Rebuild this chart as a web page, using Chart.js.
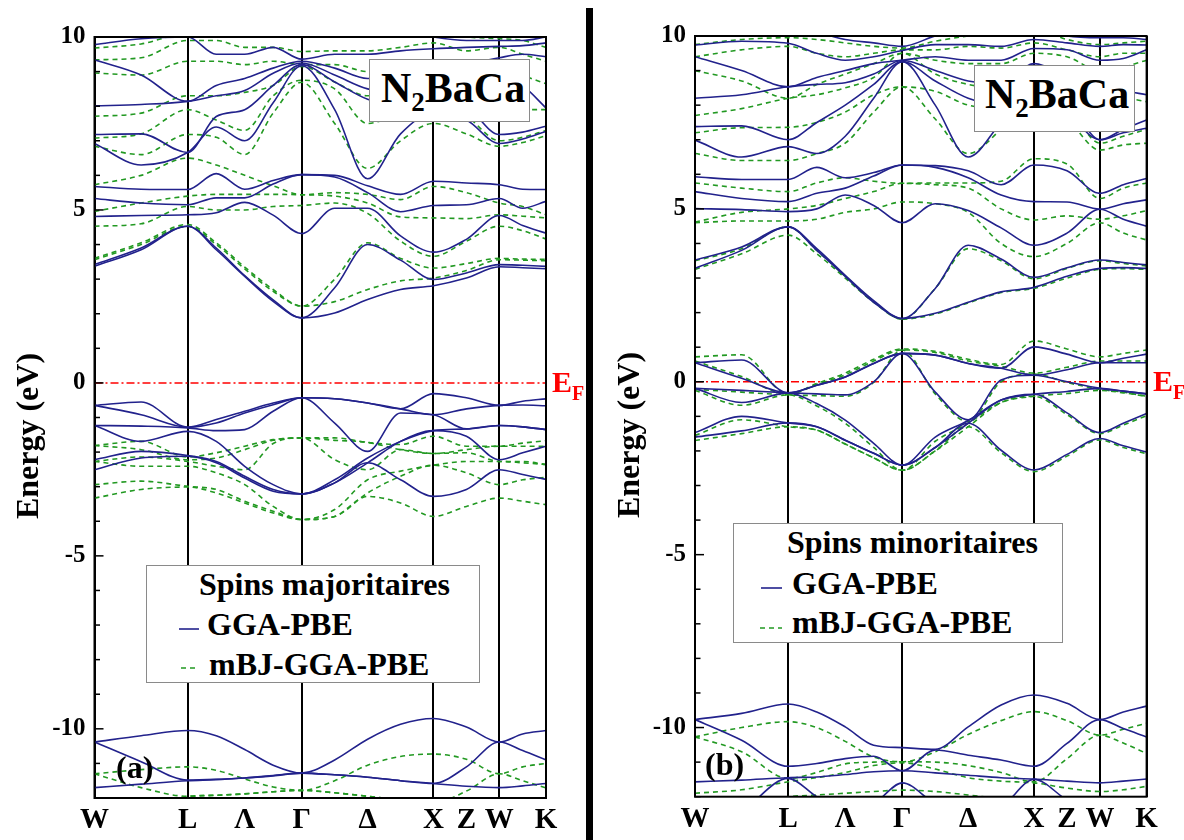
<!DOCTYPE html>
<html>
<head>
<meta charset="utf-8">
<script src="https://cdn.jsdelivr.net/npm/chart.js@4.4.1/dist/chart.umd.min.js"></script>
<style>
  body { margin:0; background:#fff; width:1184px; height:840px; position:relative; overflow:hidden; }
  canvas { position:absolute; top:0; }
  #left { left:0; }
  #right { left:595px; }
  .t { position:absolute; font-family:'Liberation Serif','Times New Roman',serif; font-weight:bold; line-height:1; white-space:nowrap; color:#000; }
  .box { position:absolute; background:#fff; border:1.5px solid #8a8a8a; box-sizing:border-box; }
  #bar { position:absolute; left:586px; top:8px; width:7px; height:832px; background:#000; }
  .sub { position:relative; }
  .ytitle { position:absolute; width:200px; height:32px; line-height:32px; text-align:center; font-size:32px; transform:rotate(-90deg); }
</style>
</head>
<body>
<canvas id="left" width="590" height="840"></canvas>
<canvas id="right" width="589" height="840"></canvas>
<div id="bar"></div>

<!-- panel (a) annotations -->
<div class="t ytitle" style="left:-73px;top:420px">Energy (eV)</div>
<div class="box" style="left:369px;top:59px;width:161px;height:63px"></div>
<div class="t" style="left:381px;top:67px;font-size:42px">N<span class="sub" style="font-size:27px;top:9px">2</span>BaCa</div>
<div class="box" style="left:146px;top:565px;width:334px;height:118px"></div>
<div class="t" style="left:199px;top:568px;font-size:32px">Spins majoritaires</div>
<div class="t" style="left:207px;top:608px;font-size:32px">GGA-PBE</div>
<div class="t" style="left:209px;top:648px;font-size:32px">mBJ-GGA-PBE</div>
<svg style="position:absolute;left:176px;top:620px" width="26" height="60">
  <line x1="3" y1="9" x2="23" y2="9" stroke="#22228c" stroke-width="1.6"/>
  <line x1="5" y1="48" x2="23" y2="48" stroke="#229922" stroke-width="1.6" stroke-dasharray="5,4"/>
</svg>
<div class="t" style="left:552px;top:367px;font-size:30px;color:#f00">E<span class="sub" style="font-size:20px;top:8px">F</span></div>
<div class="t" style="left:116px;top:751px;font-size:32px">(a)</div>

<!-- panel (b) annotations -->
<div class="t ytitle" style="left:528px;top:419px">Energy (eV)</div>
<div class="box" style="left:974px;top:65px;width:161px;height:67px"></div>
<div class="t" style="left:985px;top:73px;font-size:42px">N<span class="sub" style="font-size:27px;top:9px">2</span>BaCa</div>
<div class="box" style="left:733px;top:523px;width:330px;height:120px"></div>
<div class="t" style="left:787px;top:526px;font-size:32px">Spins minoritaires</div>
<div class="t" style="left:792px;top:567px;font-size:32px">GGA-PBE</div>
<div class="t" style="left:792px;top:606px;font-size:32px">mBJ-GGA-PBE</div>
<svg style="position:absolute;left:758px;top:579px" width="26" height="60">
  <line x1="3" y1="9" x2="24" y2="9" stroke="#22228c" stroke-width="1.6"/>
  <line x1="2" y1="49" x2="24" y2="49" stroke="#229922" stroke-width="1.6" stroke-dasharray="5,4"/>
</svg>
<div class="t" style="left:1153px;top:366px;font-size:30px;color:#f00">E<span class="sub" style="font-size:20px;top:8px">F</span></div>
<div class="t" style="left:705px;top:748px;font-size:32px">(b)</div>

<script>
// k-path W - L - Γ - X - W - K (sample points along the path)
const kPath = [0, 0.354, 0.707, 0.924, 1.14, 1.356, 1.573, 1.823, 2.073, 2.323, 2.573, 2.823, 3.073, 3.25, 3.427]
const tickPos = [0, 0.707, 1.14, 1.573, 2.073, 2.573, 2.823, 3.073, 3.427]
const tickNames = ['W', 'L', 'Λ', 'Γ', 'Δ', 'X', 'Z', 'W', 'K']
const tickLines = [true, true, false, true, false, true, false, true, true]
const yTicks = [-10, -5, 0, 5, 10]

// spin up, GGA-PBE
const upGGA = [
  [-10.38, -10.20, -10.05, -10.20, -10.60, -11.05, -11.28, -10.90, -10.30, -9.87, -9.70, -9.95, -10.38, -10.15, -10.05],
  [-10.38, -10.95, -11.48, -11.46, -11.42, -11.35, -11.28, -11.33, -11.40, -11.50, -11.58, -11.10, -10.38, -10.63, -10.90],
  [-11.70, -11.60, -11.50, -11.47, -11.42, -11.36, -11.28, -11.33, -11.40, -11.50, -11.58, -11.66, -11.70, -11.65, -11.58],
  [-0.65, -0.55, -1.28, -1.06, -0.82, -0.58, -0.43, -0.46, -0.58, -0.75, -0.31, -0.43, -0.65, -0.53, -0.46],
  [-0.65, -0.92, -1.28, -1.16, -0.87, -0.63, -0.43, -0.46, -0.58, -0.75, -0.92, -0.75, -0.65, -0.64, -0.66],
  [-1.23, -1.25, -1.30, -1.38, -1.35, -0.82, -0.43, -1.16, -1.98, -0.87, -0.92, -1.33, -1.23, -1.27, -1.35],
  [-1.23, -1.69, -1.40, -1.69, -2.41, -2.94, -3.21, -2.80, -2.17, -1.69, -1.38, -1.33, -1.23, -1.27, -1.35],
  [-2.22, -1.98, -2.10, -2.27, -2.70, -3.08, -3.21, -2.89, -2.31, -1.69, -1.38, -1.54, -2.22, -2.02, -1.83],
  [-2.51, -2.17, -2.12, -2.31, -2.75, -3.13, -3.21, -2.89, -2.31, -2.80, -3.28, -3.08, -2.51, -2.65, -2.79],
  [3.37, 3.85, 4.53, 3.85, 3.08, 2.36, 1.88, 2.02, 2.41, 2.70, 2.81, 3.03, 3.36, 3.33, 3.30],
  [3.42, 3.90, 4.53, 3.90, 3.10, 2.40, 1.88, 2.75, 4.00, 3.55, 2.99, 3.18, 3.42, 3.40, 3.37],
  [4.81, 4.84, 4.86, 4.92, 5.22, 4.85, 4.32, 5.05, 5.05, 4.25, 3.78, 4.15, 4.84, 4.55, 4.33],
  [5.33, 5.20, 5.15, 5.35, 5.35, 5.75, 6.02, 5.95, 5.50, 4.95, 5.13, 5.15, 5.33, 5.05, 5.25],
  [5.68, 5.60, 5.59, 6.05, 5.60, 5.85, 6.02, 6.00, 5.70, 5.45, 5.83, 5.78, 5.73, 5.60, 5.59],
  [6.92, 6.30, 6.66, 7.40, 7.00, 8.10, 9.17, 7.90, 5.90, 7.20, 7.80, 7.60, 6.92, 7.05, 7.27],
  [7.18, 7.20, 6.66, 7.70, 7.90, 8.60, 9.20, 8.70, 8.20, 8.00, 8.30, 8.00, 7.18, 7.25, 7.42],
  [8.01, 8.05, 8.14, 8.30, 8.45, 8.95, 9.25, 8.90, 8.50, 8.40, 8.60, 8.60, 9.00, 8.60, 7.95],
  [9.34, 8.90, 8.14, 8.60, 8.80, 9.10, 9.30, 9.10, 8.80, 8.80, 9.00, 9.20, 9.40, 9.50, 9.43],
  [9.78, 9.95, 10.0, 9.50, 9.50, 9.70, 9.36, 9.50, 9.50, 9.60, 9.66, 9.70, 9.73, 9.75, 9.83],
  [10.0, 10.1, 10.1, 10.2, 10.2, 10.3, 10.3, 10.2, 10.3, 10.2, 10.0, 9.90, 9.90, 9.90, 10.0]
]

// spin up, mBJ-GGA-PBE
const upMBJ = [
  [-11.30, -11.18, -11.10, -11.20, -11.45, -11.68, -11.78, -11.50, -11.05, -10.80, -10.73, -10.88, -11.30, -11.10, -11.00],
  [-11.30, -11.70, -11.95, -11.92, -11.88, -11.82, -11.78, -11.85, -11.95, -12.05, -12.15, -11.80, -11.30, -11.50, -11.71],
  [-12.60, -12.40, -11.95, -11.92, -11.88, -11.82, -11.78, -11.85, -11.95, -12.05, -12.15, -12.40, -12.60, -12.50, -12.30],
  [-1.81, -1.69, -2.14, -2.02, -1.83, -1.64, -1.59, -1.59, -1.72, -1.78, -1.54, -1.83, -1.83, -1.74, -1.67],
  [-1.81, -1.93, -2.22, -2.17, -1.93, -1.66, -1.59, -1.66, -1.72, -1.93, -2.04, -1.93, -1.83, -1.83, -1.83],
  [-2.27, -2.14, -2.27, -2.41, -2.51, -1.75, -1.59, -2.22, -2.51, -1.93, -2.04, -2.02, -2.27, -2.27, -2.36],
  [-2.27, -2.41, -2.41, -2.60, -2.94, -3.57, -3.95, -3.66, -2.80, -2.55, -2.38, -2.27, -2.27, -2.31, -2.36],
  [-2.94, -2.84, -2.99, -3.08, -3.42, -3.71, -3.95, -3.86, -3.18, -2.70, -2.38, -2.60, -2.94, -2.80, -2.73],
  [-3.33, -3.08, -3.01, -3.18, -3.47, -3.76, -3.95, -3.86, -3.28, -3.47, -3.86, -3.57, -3.33, -3.42, -3.52],
  [3.56, 4.00, 4.53, 4.00, 3.30, 2.65, 2.22, 2.35, 2.70, 2.95, 3.03, 3.25, 3.56, 3.55, 3.53],
  [3.60, 4.05, 4.58, 4.05, 3.35, 2.70, 2.22, 3.00, 4.05, 3.60, 3.32, 3.45, 3.60, 3.58, 3.57],
  [4.53, 4.60, 5.10, 5.00, 5.00, 5.10, 5.13, 5.20, 4.90, 4.10, 3.66, 4.10, 4.53, 4.40, 4.16],
  [4.96, 5.20, 5.40, 5.45, 5.45, 5.45, 5.44, 5.40, 5.20, 4.80, 4.77, 4.75, 4.86, 4.82, 4.77],
  [5.73, 6.00, 6.50, 6.30, 6.00, 5.70, 5.44, 5.50, 5.45, 5.30, 5.68, 5.50, 5.20, 5.10, 4.86],
  [6.84, 6.60, 7.18, 7.10, 6.60, 7.80, 8.69, 7.50, 6.20, 7.00, 7.50, 7.20, 6.84, 6.95, 7.15],
  [7.08, 7.20, 7.90, 7.60, 7.30, 8.30, 8.75, 8.50, 7.50, 7.80, 8.00, 7.70, 7.00, 7.10, 7.30],
  [7.71, 7.80, 8.30, 8.30, 8.40, 8.60, 9.15, 8.70, 8.30, 8.30, 8.50, 8.30, 8.00, 7.90, 7.90],
  [8.96, 8.90, 9.30, 9.30, 9.20, 9.30, 9.20, 9.20, 9.00, 9.00, 9.20, 9.20, 9.25, 8.90, 8.65],
  [9.34, 9.40, 9.90, 9.90, 9.70, 9.70, 9.58, 9.60, 9.60, 9.70, 9.83, 9.60, 9.70, 9.50, 9.30],
  [9.68, 9.80, 10.1, 10.1, 10.1, 10.1, 10.0, 10.0, 10.0, 10.0, 10.1, 10.0, 9.95, 9.90, 9.70]
]

// spin down, GGA-PBE
const dnGGA = [
  [-9.77, -9.59, -9.32, -9.55, -9.98, -10.51, -10.58, -10.63, -9.98, -9.35, -9.06, -9.30, -9.77, -9.55, -9.38],
  [-9.77, -10.37, -11.12, -11.04, -10.90, -10.83, -11.25, -10.65, -10.80, -10.94, -11.12, -10.46, -9.77, -10.03, -10.27],
  [-11.57, -11.52, -11.45, -11.43, -11.36, -11.28, -11.25, -11.31, -11.38, -11.45, -11.49, -11.55, -11.60, -11.55, -11.49],
  [-12.80, -12.40, -11.47, -12.00, -12.40, -12.20, -11.60, -12.20, -12.50, -12.30, -11.50, -12.10, -12.60, -12.80, -12.90],
  [0.55, 0.63, -0.32, -0.10, 0.14, 0.53, 0.82, 0.77, 0.53, 0.39, 1.01, 0.80, 0.55, 0.68, 0.80],
  [0.55, 0.10, -0.32, -0.10, 0.14, 0.53, 0.82, 0.77, 0.53, 0.39, 0.19, 0.35, 0.55, 0.55, 0.55],
  [-0.19, -0.25, -0.32, -0.35, -0.38, 0.00, 0.82, -0.30, -1.10, 0.05, 0.19, 0.00, -0.19, -0.27, -0.35],
  [-0.19, -0.60, -0.32, -0.63, -1.11, -1.78, -2.41, -1.60, -1.12, -0.53, -0.36, -0.28, -0.19, -0.27, -0.35],
  [-1.47, -1.00, -1.19, -1.30, -1.69, -2.07, -2.41, -1.90, -1.20, -0.53, -0.36, -0.90, -1.47, -1.20, -0.92],
  [-1.60, -1.42, -1.19, -1.30, -1.69, -2.07, -2.41, -1.90, -1.20, -1.98, -2.55, -2.10, -1.64, -1.85, -2.03],
  [3.28, 3.80, 4.48, 3.80, 3.05, 2.30, 1.83, 1.98, 2.30, 2.60, 2.73, 3.05, 3.28, 3.30, 3.28],
  [3.52, 3.90, 4.48, 3.85, 3.08, 2.35, 1.83, 2.70, 3.95, 3.55, 3.02, 3.30, 3.52, 3.45, 3.38],
  [5.01, 4.98, 4.92, 5.00, 5.40, 5.10, 4.60, 5.15, 4.95, 4.45, 3.95, 4.30, 4.99, 4.70, 4.50],
  [5.50, 5.30, 5.21, 5.45, 5.60, 5.95, 6.27, 6.20, 5.90, 5.40, 5.21, 5.20, 4.99, 5.15, 5.26],
  [5.93, 5.85, 5.85, 6.20, 5.90, 6.05, 6.27, 6.25, 6.10, 5.70, 6.27, 6.10, 5.45, 5.70, 5.88],
  [6.99, 6.50, 6.80, 6.60, 7.10, 8.20, 9.26, 8.00, 6.50, 7.50, 8.50, 7.80, 7.00, 7.20, 7.33],
  [7.38, 7.40, 7.00, 7.50, 8.00, 8.60, 9.26, 8.70, 8.20, 8.00, 8.80, 8.20, 7.00, 7.30, 7.57],
  [8.20, 8.30, 8.53, 8.60, 8.65, 8.90, 9.30, 9.00, 8.70, 8.60, 9.20, 8.80, 8.30, 8.40, 8.30],
  [9.40, 9.00, 8.53, 8.80, 9.00, 9.20, 9.30, 9.40, 9.30, 9.30, 9.64, 9.60, 9.30, 9.35, 9.60],
  [9.74, 9.85, 9.79, 9.50, 9.30, 9.40, 9.58, 9.75, 9.75, 9.70, 9.90, 9.80, 9.70, 9.75, 9.74],
  [10.0, 10.1, 10.2, 10.1, 9.90, 9.80, 9.70, 10.0, 10.2, 10.2, 10.3, 10.0, 9.95, 9.95, 9.90]
]

// spin down, mBJ-GGA-PBE
const dnMBJ = [
  [-10.27, -10.00, -9.83, -10.00, -10.40, -10.85, -10.99, -10.70, -10.20, -9.80, -9.54, -9.80, -10.22, -10.05, -9.88],
  [-10.27, -10.70, -11.47, -11.30, -11.05, -11.00, -10.99, -11.00, -11.10, -11.30, -11.57, -10.90, -10.22, -10.45, -10.75],
  [-11.90, -11.80, -11.57, -11.45, -11.30, -11.10, -11.02, -11.20, -11.45, -11.55, -11.60, -11.75, -11.85, -11.80, -11.70],
  [-12.40, -12.20, -12.00, -11.95, -11.90, -11.85, -11.81, -11.85, -11.95, -12.05, -12.10, -12.20, -12.30, -12.30, -12.30],
  [0.72, 0.78, -0.36, -0.05, 0.25, 0.65, 0.95, 0.88, 0.65, 0.50, 1.18, 0.95, 0.72, 0.82, 0.92],
  [0.60, 0.15, -0.36, -0.08, 0.20, 0.60, 0.92, 0.85, 0.60, 0.45, 0.25, 0.42, 0.60, 0.60, 0.60],
  [-0.22, -0.30, -0.38, -0.40, -0.42, -0.02, 0.92, -0.35, -1.15, 0.00, 0.22, -0.02, -0.22, -0.30, -0.42],
  [-0.25, -0.68, -0.38, -0.70, -1.20, -1.90, -2.56, -1.72, -1.20, -0.60, -0.42, -0.34, -0.25, -0.32, -0.42],
  [-1.55, -1.10, -1.30, -1.40, -1.80, -2.20, -2.56, -2.00, -1.30, -0.60, -0.42, -0.95, -1.50, -1.25, -0.98],
  [-1.70, -1.50, -1.30, -1.40, -1.80, -2.20, -2.56, -2.00, -1.30, -2.05, -2.60, -2.15, -1.68, -1.90, -2.08],
  [3.25, 3.70, 4.24, 3.70, 3.00, 2.30, 1.81, 1.96, 2.28, 2.58, 2.70, 3.00, 3.25, 3.27, 3.25],
  [3.50, 3.85, 4.48, 3.80, 3.05, 2.33, 1.81, 2.70, 3.85, 3.50, 2.98, 3.28, 3.50, 3.42, 3.35],
  [4.60, 4.65, 4.65, 4.70, 4.90, 5.00, 5.20, 5.15, 4.90, 4.00, 3.62, 4.00, 4.60, 4.30, 4.10],
  [4.62, 4.90, 5.00, 5.10, 5.30, 5.50, 5.74, 5.70, 5.60, 5.00, 4.68, 4.80, 4.70, 4.80, 4.95],
  [5.75, 5.60, 5.50, 5.75, 5.90, 5.80, 5.74, 5.75, 5.75, 5.80, 6.45, 6.30, 5.30, 5.60, 5.75],
  [6.60, 6.40, 6.40, 6.60, 6.90, 7.80, 8.53, 7.60, 6.60, 7.30, 8.20, 7.60, 6.70, 6.85, 6.90],
  [7.20, 7.35, 7.36, 7.50, 7.80, 8.30, 8.53, 8.40, 8.00, 7.90, 8.50, 8.00, 6.90, 7.10, 7.30],
  [7.70, 7.90, 8.20, 8.30, 8.50, 8.80, 9.50, 8.90, 8.60, 8.50, 9.00, 8.60, 8.10, 8.20, 8.10],
  [9.00, 8.70, 8.20, 8.60, 8.90, 9.20, 9.50, 9.30, 9.20, 9.20, 9.50, 9.40, 9.00, 9.10, 9.30],
  [9.40, 9.60, 9.70, 9.50, 9.40, 9.50, 9.60, 9.60, 9.70, 9.65, 9.80, 9.60, 9.40, 9.50, 9.50],
  [9.75, 9.90, 9.95, 9.90, 9.80, 9.70, 9.65, 9.85, 10.0, 10.1, 10.2, 9.90, 9.75, 9.80, 9.85]
]

const BLUE = '#22228c'
const GREEN = '#229922'
const FONT = "'Liberation Serif', 'Times New Roman', serif"

function bandSet(band, color, dash, order) {
  return {
    data: band.map((e, i) => ({ x: kPath[i], y: e })),
    borderColor: color,
    borderWidth: 1.6,
    borderDash: dash,
    pointRadius: 0,
    fill: false,
    cubicInterpolationMode: 'monotone',
    order: order
  }
}

// frame around the plot + small inward ticks on the energy axis
const frame = {
  id: 'frame',
  afterDatasetsDraw(chart) {
    const ctx = chart.ctx
    const a = chart.chartArea
    const y = chart.scales.y
    ctx.save()
    ctx.strokeStyle = '#000'
    ctx.lineWidth = 2
    ctx.strokeRect(a.left, a.top, a.right - a.left, a.bottom - a.top)
    ctx.lineWidth = 1.5
    for (let v = -12; v <= 10; v++) {
      const py = y.getPixelForValue(v)
      const len = v % 5 === 0 ? 9 : 5.5
      ctx.beginPath()
      ctx.moveTo(a.left, py)
      ctx.lineTo(a.left + len, py)
      ctx.stroke()
    }
    ctx.restore()
  }
}

function drawPanel(id, gga, mbj, pad, yWidth, xHeight) {
  const datasets = []
  gga.forEach(b => datasets.push(bandSet(b, BLUE, [], 0)))
  mbj.forEach(b => datasets.push(bandSet(b, GREEN, [5, 4], 1)))
  // Fermi level
  datasets.push({
    data: [{ x: 0, y: 0 }, { x: 3.427, y: 0 }],
    borderColor: '#ff0000', borderWidth: 1.5, borderDash: [8, 3, 2, 3],
    pointRadius: 0, order: 2
  })

  return new Chart(document.getElementById(id), {
    type: 'line',
    data: { datasets },
    options: {
      responsive: false,
      animation: false,
      devicePixelRatio: 1,
      layout: { padding: pad },
      plugins: { legend: { display: false }, tooltip: { enabled: false } },
      scales: {
        x: {
          type: 'linear', min: 0, max: 3.427,
          afterBuildTicks: s => { s.ticks = tickPos.map(v => ({ value: v })) },
          afterFit: s => { s.height = xHeight },
          ticks: {
            autoSkip: false, maxRotation: 0, padding: 5, color: '#000',
            font: { family: FONT, size: 29, weight: 'bold' },
            callback: (v, i) => tickNames[i]
          },
          grid: {
            color: c => tickLines[c.index] ? '#000' : 'rgba(0,0,0,0)',
            lineWidth: 2, drawTicks: false
          },
          border: { display: false }
        },
        y: {
          type: 'linear', min: -12, max: 10,
          afterBuildTicks: s => { s.ticks = yTicks.map(v => ({ value: v })) },
          afterFit: s => { s.width = yWidth },
          ticks: {
            padding: 9, color: '#000',
            font: { family: FONT, size: 25, weight: 'bold' },
            callback: v => String(v)
          },
          grid: { display: false, drawTicks: false },
          border: { display: false }
        }
      }
    },
    plugins: [frame]
  })
}

drawPanel('left', upGGA, upMBJ, { left: 6, right: 44, top: 37, bottom: 0 }, 88.5, 42)
drawPanel('right', dnGGA, dnMBJ, { left: 14, right: 37.4, top: 36, bottom: 0 }, 86, 43.3)
</script>
</body>
</html>
